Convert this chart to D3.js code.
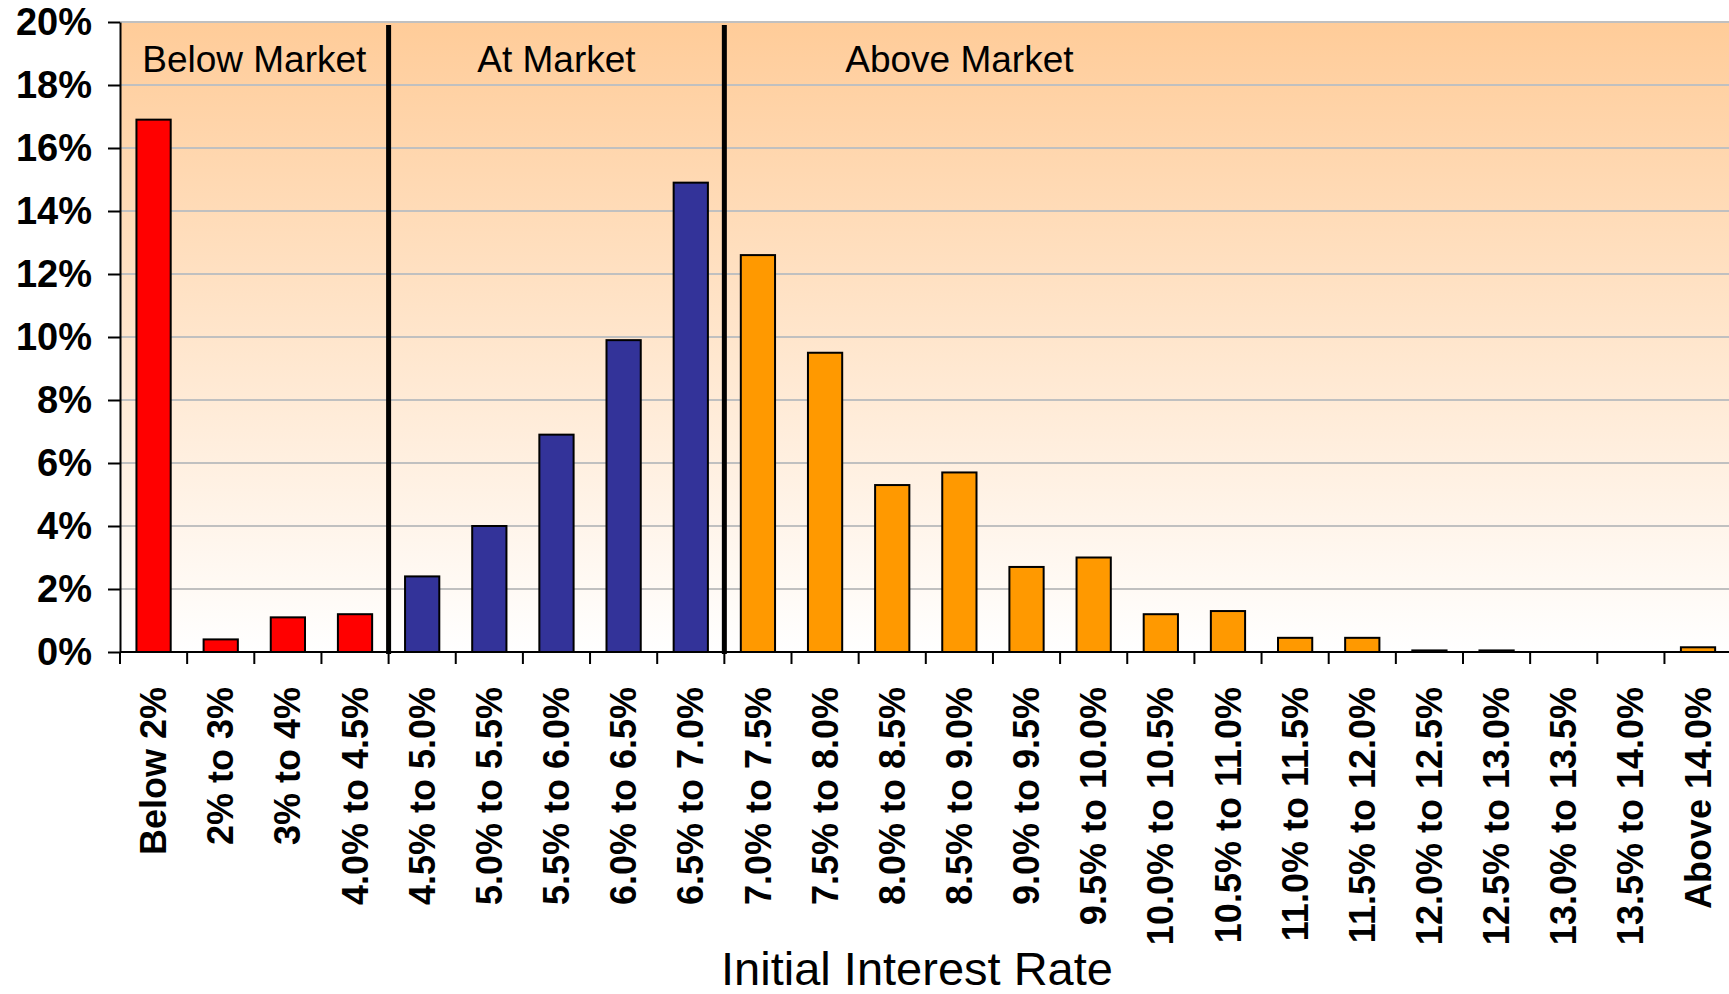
<!DOCTYPE html>
<html>
<head>
<meta charset="utf-8">
<script src="https://cdn.jsdelivr.net/npm/d3@7"></script>
<style>
  body { margin: 0; background: #fff; }
  svg { display: block; font-family: "Liberation Sans", Arial, sans-serif; }
</style>
</head>
<body>
<div class="chart-container"></div>
<script>
// interest rate buckets and share of loans (%) in each
const categories = [
  "Below 2%", "2% to 3%", "3% to 4%", "4.0% to 4.5%", "4.5% to 5.0%",
  "5.0% to 5.5%", "5.5% to 6.0%", "6.0% to 6.5%", "6.5% to 7.0%", "7.0% to 7.5%",
  "7.5% to 8.0%", "8.0% to 8.5%", "8.5% to 9.0%", "9.0% to 9.5%", "9.5% to 10.0%",
  "10.0% to 10.5%", "10.5% to 11.0%", "11.0% to 11.5%", "11.5% to 12.0%", "12.0% to 12.5%",
  "12.5% to 13.0%", "13.0% to 13.5%", "13.5% to 14.0%", "Above 14.0%"
];
const shares = [
  16.9, 0.4, 1.1, 1.2, 2.4,
  4.0, 6.9, 9.9, 14.9, 12.6,
  9.5, 5.3, 5.7, 2.7, 3.0,
  1.2, 1.3, 0.45, 0.45, 0.05,
  0.05, 0, 0, 0.15
];
const regions = ["Below Market", "At Market", "Above Market"];
const regionStarts = [0, 4, 9];
const yTicks = [0, 2, 4, 6, 8, 10, 12, 14, 16, 18, 20];
const xTitle = "Initial Interest Rate";

const width = 1729;
const height = 994;
const margin = { top: 22, left: 120, bottom: 342 };
const step = 67.15;
const regionColors = ["#ff0000", "#333399", "#ff9900"];

const svg = d3.select(".chart-container")
  .append("svg")
  .attr("width", width)
  .attr("height", height);

const xScale = d3.scaleBand()
  .domain(categories)
  .range([margin.left, margin.left + step * categories.length])
  .padding(0);

const yScale = d3.scaleLinear()
  .domain([0, 20])
  .range([height - margin.bottom, margin.top]);

const regionOf = i => { return d3.bisectRight(regionStarts, i) - 1 };

// background gradient
const grad = svg.append("defs").append("linearGradient")
  .attr("id", "bg")
  .attr("x1", 0).attr("y1", 0).attr("x2", 0).attr("y2", 1);
grad.append("stop").attr("offset", "0%").attr("stop-color", "#ffcc99");
grad.append("stop").attr("offset", "100%").attr("stop-color", "#ffffff");

svg.append("rect")
  .attr("x", xScale.range()[0])
  .attr("y", yScale(20))
  .attr("width", xScale.range()[1] - xScale.range()[0])
  .attr("height", yScale(0) - yScale(20))
  .attr("fill", "url(#bg)");

// gridlines
svg.append("g")
  .selectAll("line")
  .data(yTicks.filter(d => { return d > 0 }))
  .enter().append("line")
  .attr("x1", xScale.range()[0])
  .attr("x2", xScale.range()[1])
  .attr("y1", d => { return yScale(d) })
  .attr("y2", d => { return yScale(d) })
  .attr("stroke", "#c0c0c0")
  .attr("stroke-width", 2);

// bars
const barW = xScale.bandwidth() * 0.51;
svg.append("g")
  .selectAll(".bar")
  .data(shares)
  .enter().append("rect")
  .attr("class", "bar")
  .attr("x", (d, i) => { return xScale(categories[i]) + (xScale.bandwidth() - barW) / 2 })
  .attr("y", d => { return yScale(d) })
  .attr("width", barW)
  .attr("height", d => { return yScale(0) - yScale(d) })
  .attr("fill", (d, i) => { return regionColors[regionOf(i)] })
  .attr("stroke", "#000")
  .attr("stroke-width", 2);

// region separators
svg.append("g")
  .selectAll("line")
  .data(regionStarts.slice(1))
  .enter().append("line")
  .attr("x1", d => { return xScale(categories[d]) })
  .attr("x2", d => { return xScale(categories[d]) })
  .attr("y1", yScale(20) + 3)
  .attr("y2", yScale(0) + 2)
  .attr("stroke", "#000")
  .attr("stroke-width", 5);

// region labels (last one sits over the first 7 buckets of its region)
svg.append("g")
  .selectAll("text")
  .data(regions)
  .enter().append("text")
  .attr("x", (d, i) => {
    const a = regionStarts[i];
    const b = i + 1 < regionStarts.length ? regionStarts[i + 1] : a + 7;
    return margin.left + step * (a + b) / 2;
  })
  .attr("y", 72)
  .attr("text-anchor", "middle")
  .style("font-size", "37px")
  .text(d => { return d });

// y axis
const yAxis = d3.axisLeft(yScale)
  .tickValues(yTicks)
  .tickSize(12)
  .tickSizeOuter(0)
  .tickPadding(16)
  .tickFormat(d => { return d + "%" });

const yAxisGroup = svg.append("g")
  .attr("transform", `translate(${margin.left}, 0)`)
  .call(yAxis);
yAxisGroup.selectAll("line").attr("stroke", "#000").attr("stroke-width", 2);
yAxisGroup.select(".domain").attr("stroke", "#000").attr("stroke-width", 2);
yAxisGroup.selectAll("text")
  .attr("fill", "#000")
  .style("font-size", "38px")
  .style("font-weight", "bold")
  .style("font-family", "'Liberation Sans', Arial, sans-serif");

// x axis: baseline, boundary ticks, rotated labels
const xAxisGroup = svg.append("g").attr("class", "x-axis");
xAxisGroup.append("line")
  .attr("x1", xScale.range()[0])
  .attr("x2", xScale.range()[1])
  .attr("y1", yScale(0))
  .attr("y2", yScale(0))
  .attr("stroke", "#000")
  .attr("stroke-width", 2);

xAxisGroup.selectAll(".tick-mark")
  .data(categories.map(c => { return xScale(c) }).concat(xScale.range()[1]))
  .enter().append("line")
  .attr("class", "tick-mark")
  .attr("x1", d => { return d })
  .attr("x2", d => { return d })
  .attr("y1", yScale(0))
  .attr("y2", yScale(0) + 12)
  .attr("stroke", "#000")
  .attr("stroke-width", 2);

xAxisGroup.selectAll(".tick-label")
  .data(categories)
  .enter().append("text")
  .attr("class", "tick-label")
  .attr("transform", d => { return `translate(${xScale(d) + xScale.bandwidth() / 2}, ${yScale(0) + 35}) rotate(-90)` })
  .attr("dy", "0.35em")
  .attr("text-anchor", "end")
  .style("font-size", "36px")
  .style("font-weight", "bold")
  .text(d => { return d });

svg.append("text")
  .attr("x", 917)
  .attr("y", 985)
  .attr("text-anchor", "middle")
  .style("font-size", "47px")
  .text(xTitle);
</script>
</body>
</html>
